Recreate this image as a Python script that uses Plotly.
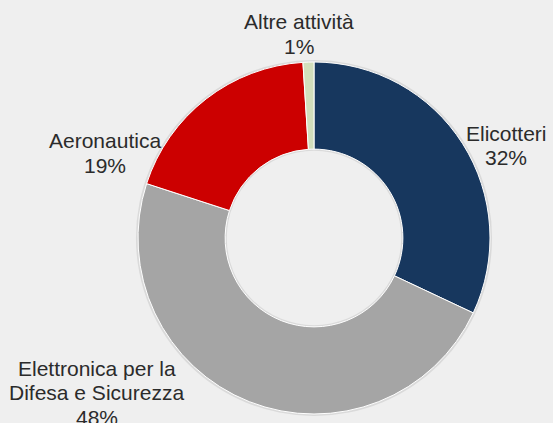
import plotly.graph_objects as go

labels = ["Elicotteri", "Elettronica per la<br>Difesa e Sicurezza", "Aeronautica", "Altre attività"]
values = [32, 48, 19, 1]
colors = ["#17375E", "#A5A5A5", "#CC0000", "#D2DEBC"]

# label anchor positions in pixels (x, y of first line centre)
label_pos = [(506, 133), (97, 368), (105, 141), (299, 22)]

W, H = 553, 423
cx, cy, R = 314, 238, 176

fig = go.Figure()
# faint rim behind the donut
fig.add_trace(go.Pie(
    values=[1], labels=["rim"], hole=0.49, sort=False,
    marker=dict(colors=["#DADADA"], line=dict(width=0)),
    textinfo="none", hoverinfo="skip", showlegend=False,
    domain=dict(x=[(cx - R - 2) / W, (cx + R + 2) / W],
                y=[(H - cy - R - 2) / H, (H - cy + R + 2) / H]),
))
fig.add_trace(go.Pie(
    values=values, labels=labels, hole=0.505, sort=False,
    direction="clockwise", rotation=0,
    marker=dict(colors=colors, line=dict(color="#FFFFFF", width=1)),
    textinfo="none", showlegend=False,
    domain=dict(x=[(cx - R) / W, (cx + R) / W],
                y=[(H - cy - R) / H, (H - cy + R) / H]),
))

line_gap = 24.5
for lab, val, (px, py) in zip(labels, values, label_pos):
    lines = lab.split("<br>") + [f"{val}%"]
    for i, t in enumerate(lines):
        fig.add_annotation(
            x=px / W, y=1 - (py + i * line_gap) / H, xref="paper", yref="paper",
            text=t, showarrow=False, xanchor="center", yanchor="middle",
            font=dict(family="Liberation Sans, Arial", size=21, color="#2B2B2B"),
        )

fig.update_layout(
    width=W, height=H, margin=dict(l=0, r=0, t=0, b=0),
    paper_bgcolor="#EFEFEF", plot_bgcolor="#EFEFEF",
)
fig.write_html(
    "out.html",
    config={"displayModeBar": False},
    post_script="document.body.style.margin='0';document.body.style.overflow='hidden';",
)
